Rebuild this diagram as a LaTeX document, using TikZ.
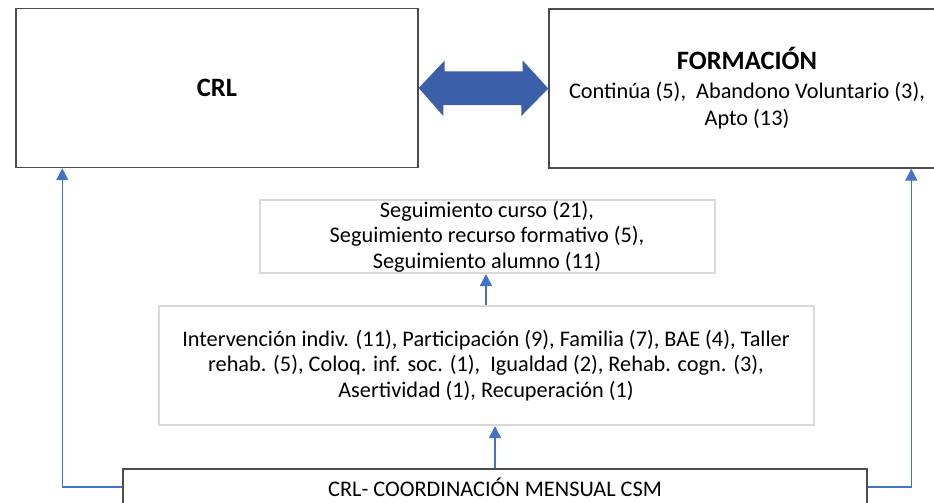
\documentclass[tikz,border=0pt]{standalone}
\usepackage{fontspec}
\setmainfont{Carlito}
\usetikzlibrary{arrows.meta, calc}

\definecolor{lineblue}{RGB}{68,114,196}
\definecolor{fillblue}{RGB}{59,95,168}

\begin{document}
\begin{tikzpicture}[x=1pt, y=-1pt,
  darkbox/.style={draw=black!70, line width=1.4pt, align=center, inner sep=0pt,
    font=\fontsize{22.3}{27}\selectfont},
  lightbox/.style={draw=black!15, line width=2pt, align=center, inner sep=0pt,
    font=\fontsize{22.3}{25.5}\selectfont},
  conn/.style={draw=lineblue, line width=1.5pt, -{Triangle[width=12pt,length=12pt]}}]
  \useasboundingbox (0,0) rectangle (934,503);
  \clip (0,0) rectangle (934,503);
  % top row
  \node[darkbox, minimum width=402pt, minimum height=159pt] (crl) at (217,88)
    {\fontsize{26.5}{27}\selectfont\bfseries CRL};
  \node[darkbox, minimum width=396pt, minimum height=159pt] (form) at (747,88.5)
    {{\fontsize{26.5}{27}\selectfont\bfseries FORMACIÓN}\\[2pt]
     Continúa (5),\ \ Abandono Voluntario (3),\\ Apto (13)};
  \fill[fillblue] (crl.east) -- ++(26,-27.5) -- ++(0,11) -- ++(78,0) -- ++(0,-11)
    -- (form.west) -- ++(-27,27.5) -- ++(0,-11) -- ++(-78,0) -- ++(0,11) -- cycle;
  % middle
  \node[lightbox, minimum width=455pt, minimum height=73pt] (segui) at (487,236.5)
    {Seguimiento curso (21),\\ Seguimiento recurso formativo (5),\\ Seguimiento alumno (11)};
  \node[lightbox, minimum width=655pt, minimum height=119pt] (interv) at (486,365.5)
    {Intervención indiv. (11), Participación (9), Familia (7), BAE (4), Taller\\
     rehab. (5), Coloq. inf. soc. (1),\ \ Igualdad (2), Rehab. cogn. (3),\\
     Asertividad (1), Recuperación (1)};
  % bottom
  \node[darkbox, minimum width=744pt, minimum height=36pt] (csm) at (495,487)
    {CRL- COORDINACIÓN MENSUAL CSM};
  \draw[conn] (csm.north) -- (csm.north |- interv.south);
  \draw[conn] (interv.north) -- (interv.north |- segui.south);
  \draw[conn] (csm.west) -| ($(crl.south west)+(47,0)$);
  \draw[conn] (csm.east) -| ($(form.south west)+(363,0)$);
\end{tikzpicture}
\end{document}
